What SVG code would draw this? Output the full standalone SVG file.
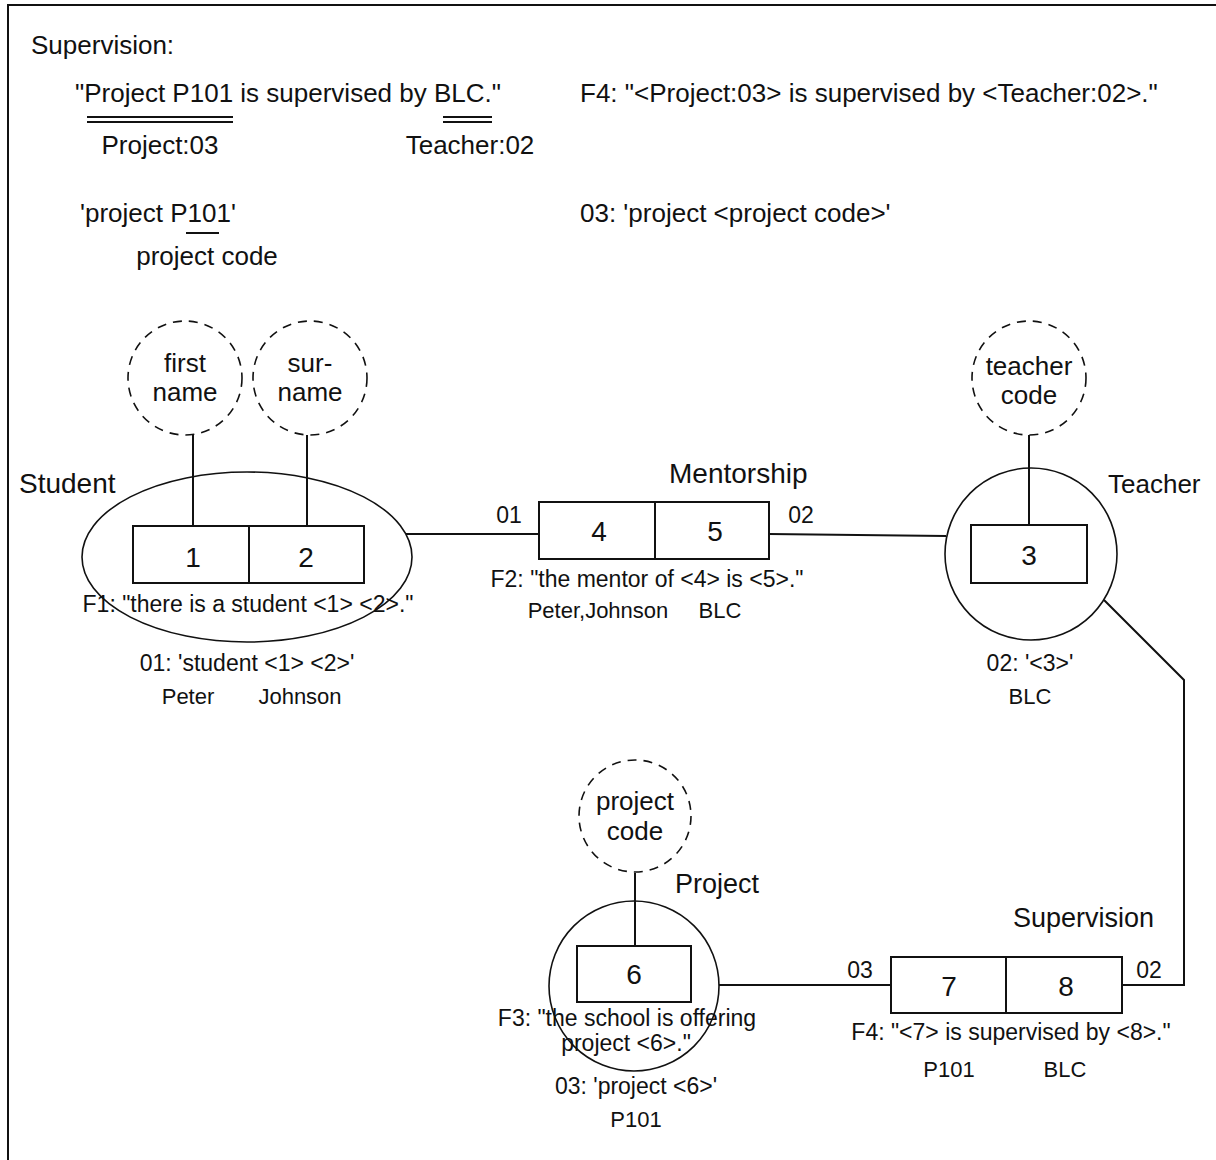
<svg xmlns="http://www.w3.org/2000/svg" width="1216" height="1160" viewBox="0 0 1216 1160">
<style>
text{font-family:"Liberation Sans",Arial,sans-serif;fill:#111}
.t26{font-size:26px}
.lbl{font-size:27px}
.num{font-size:28px;text-anchor:middle}
.f{font-size:23px;text-anchor:middle}
.v{font-size:22px;text-anchor:middle}
.m{text-anchor:middle}
.ln{stroke:#111;stroke-width:2;fill:none}
.bx{stroke:#111;stroke-width:2;fill:#fff}
.sh{stroke:#111;stroke-width:1.6;fill:none}
.ds{stroke:#111;stroke-width:1.6;fill:none;stroke-dasharray:9 7}
</style>
<rect width="1216" height="1160" fill="#fff"/>
<path class="ln" d="M8 1160 V5 H1216"/>

<g id="header">
<text class="t26" x="31" y="54">Supervision:</text>
<text class="t26" x="75" y="102">"Project P101 is supervised by BLC."</text>
<path class="ln" d="M87 117 H233 M87 122 H233 M443 117 H492 M443 122 H492" stroke-width="1.8"/>
<text class="t26 m" x="160" y="154">Project:03</text>
<text class="t26 m" x="470" y="154">Teacher:02</text>
<text class="t26" x="580" y="102" font-size="26.5">F4: "&lt;Project:03&gt; is supervised by &lt;Teacher:02&gt;."</text>
<text class="t26" x="80" y="222">'project P101'</text>
<path class="ln" d="M186 233 H219" stroke-width="1.8"/>
<text class="t26 m" x="207" y="265">project code</text>
<text class="t26" x="580" y="222">03: 'project &lt;project code&gt;'</text>
</g>

<g id="connectors">
<path class="ln" d="M193 435 V526 M307 435 V526"/>
<path class="ln" d="M406 534 H539"/>
<path class="ln" d="M769 534 L946 536"/>
<path class="ln" d="M1029 435 V525"/>
<path class="ln" d="M1104 600 L1184 680 V985 H1122"/>
<path class="ln" d="M635 873 V946"/>
<path class="ln" d="M719 985 H891"/>
</g>

<g id="first-name">
<circle class="ds" cx="185" cy="378" r="57"/>
<text class="t26 m" x="185" y="372">first</text>
<text class="t26 m" x="185" y="401">name</text>
</g>
<g id="surname">
<circle class="ds" cx="310" cy="378" r="57"/>
<text class="t26 m" x="310" y="372">sur-</text>
<text class="t26 m" x="310" y="401">name</text>
</g>

<g id="student">
<ellipse class="sh" cx="247" cy="557" rx="165" ry="85"/>
<text x="19" y="493" font-size="28">Student</text>
<rect class="bx" x="133" y="526" width="231" height="57"/>
<path class="ln" d="M249 526 V583"/>
<text class="num" x="193" y="567">1</text>
<text class="num" x="306" y="567">2</text>
<text class="f" x="248" y="612">F1: "there is a student &lt;1&gt; &lt;2&gt;."</text>
<text class="f" x="247" y="671">01: 'student &lt;1&gt; &lt;2&gt;'</text>
<text class="v" x="188" y="704">Peter</text>
<text class="v" x="300" y="704">Johnson</text>
</g>

<g id="mentorship">
<text x="669" y="483" font-size="28">Mentorship</text>
<rect class="bx" x="539" y="502" width="230" height="57"/>
<path class="ln" d="M655 502 V559"/>
<text class="num" x="599" y="541">4</text>
<text class="num" x="715" y="541">5</text>
<text class="f" x="509" y="523">01</text>
<text class="f" x="801" y="523">02</text>
<text class="f" x="647" y="587">F2: "the mentor of &lt;4&gt; is &lt;5&gt;."</text>
<text class="v" x="598" y="618">Peter,Johnson</text>
<text class="v" x="720" y="618">BLC</text>
</g>

<g id="teacher-code">
<circle class="ds" cx="1029" cy="378" r="57"/>
<text class="t26 m" x="1029" y="375">teacher</text>
<text class="t26 m" x="1029" y="404">code</text>
</g>

<g id="teacher">
<circle class="sh" cx="1031" cy="554" r="86"/>
<text x="1108" y="493" font-size="26">Teacher</text>
<rect class="bx" x="971" y="525" width="116" height="58"/>
<text class="num" x="1029" y="565">3</text>
<text class="f" x="1030" y="671">02: '&lt;3&gt;'</text>
<text class="v" x="1030" y="704">BLC</text>
</g>

<g id="project-code">
<circle class="ds" cx="635" cy="816" r="56"/>
<text class="t26 m" x="635" y="810">project</text>
<text class="t26 m" x="635" y="840">code</text>
</g>

<g id="project">
<circle class="sh" cx="634" cy="986" r="85"/>
<text x="675" y="893" font-size="27">Project</text>
<rect class="bx" x="577" y="946" width="114" height="56"/>
<text class="num" x="634" y="984">6</text>
<text class="f" x="627" y="1026">F3: "the school is offering</text>
<text class="f" x="626" y="1051">project &lt;6&gt;."</text>
<text class="f" x="636" y="1094">03: 'project &lt;6&gt;'</text>
<text class="v" x="636" y="1127">P101</text>
</g>

<g id="supervision">
<text x="1013" y="927" font-size="27">Supervision</text>
<rect class="bx" x="891" y="957" width="231" height="56"/>
<path class="ln" d="M1006 957 V1013"/>
<text class="num" x="949" y="996">7</text>
<text class="num" x="1066" y="996">8</text>
<text class="f" x="860" y="978">03</text>
<text class="f" x="1149" y="978">02</text>
<text class="f" x="1011" y="1040">F4: "&lt;7&gt; is supervised by &lt;8&gt;."</text>
<text class="v" x="949" y="1077">P101</text>
<text class="v" x="1065" y="1077">BLC</text>
</g>
</svg>
